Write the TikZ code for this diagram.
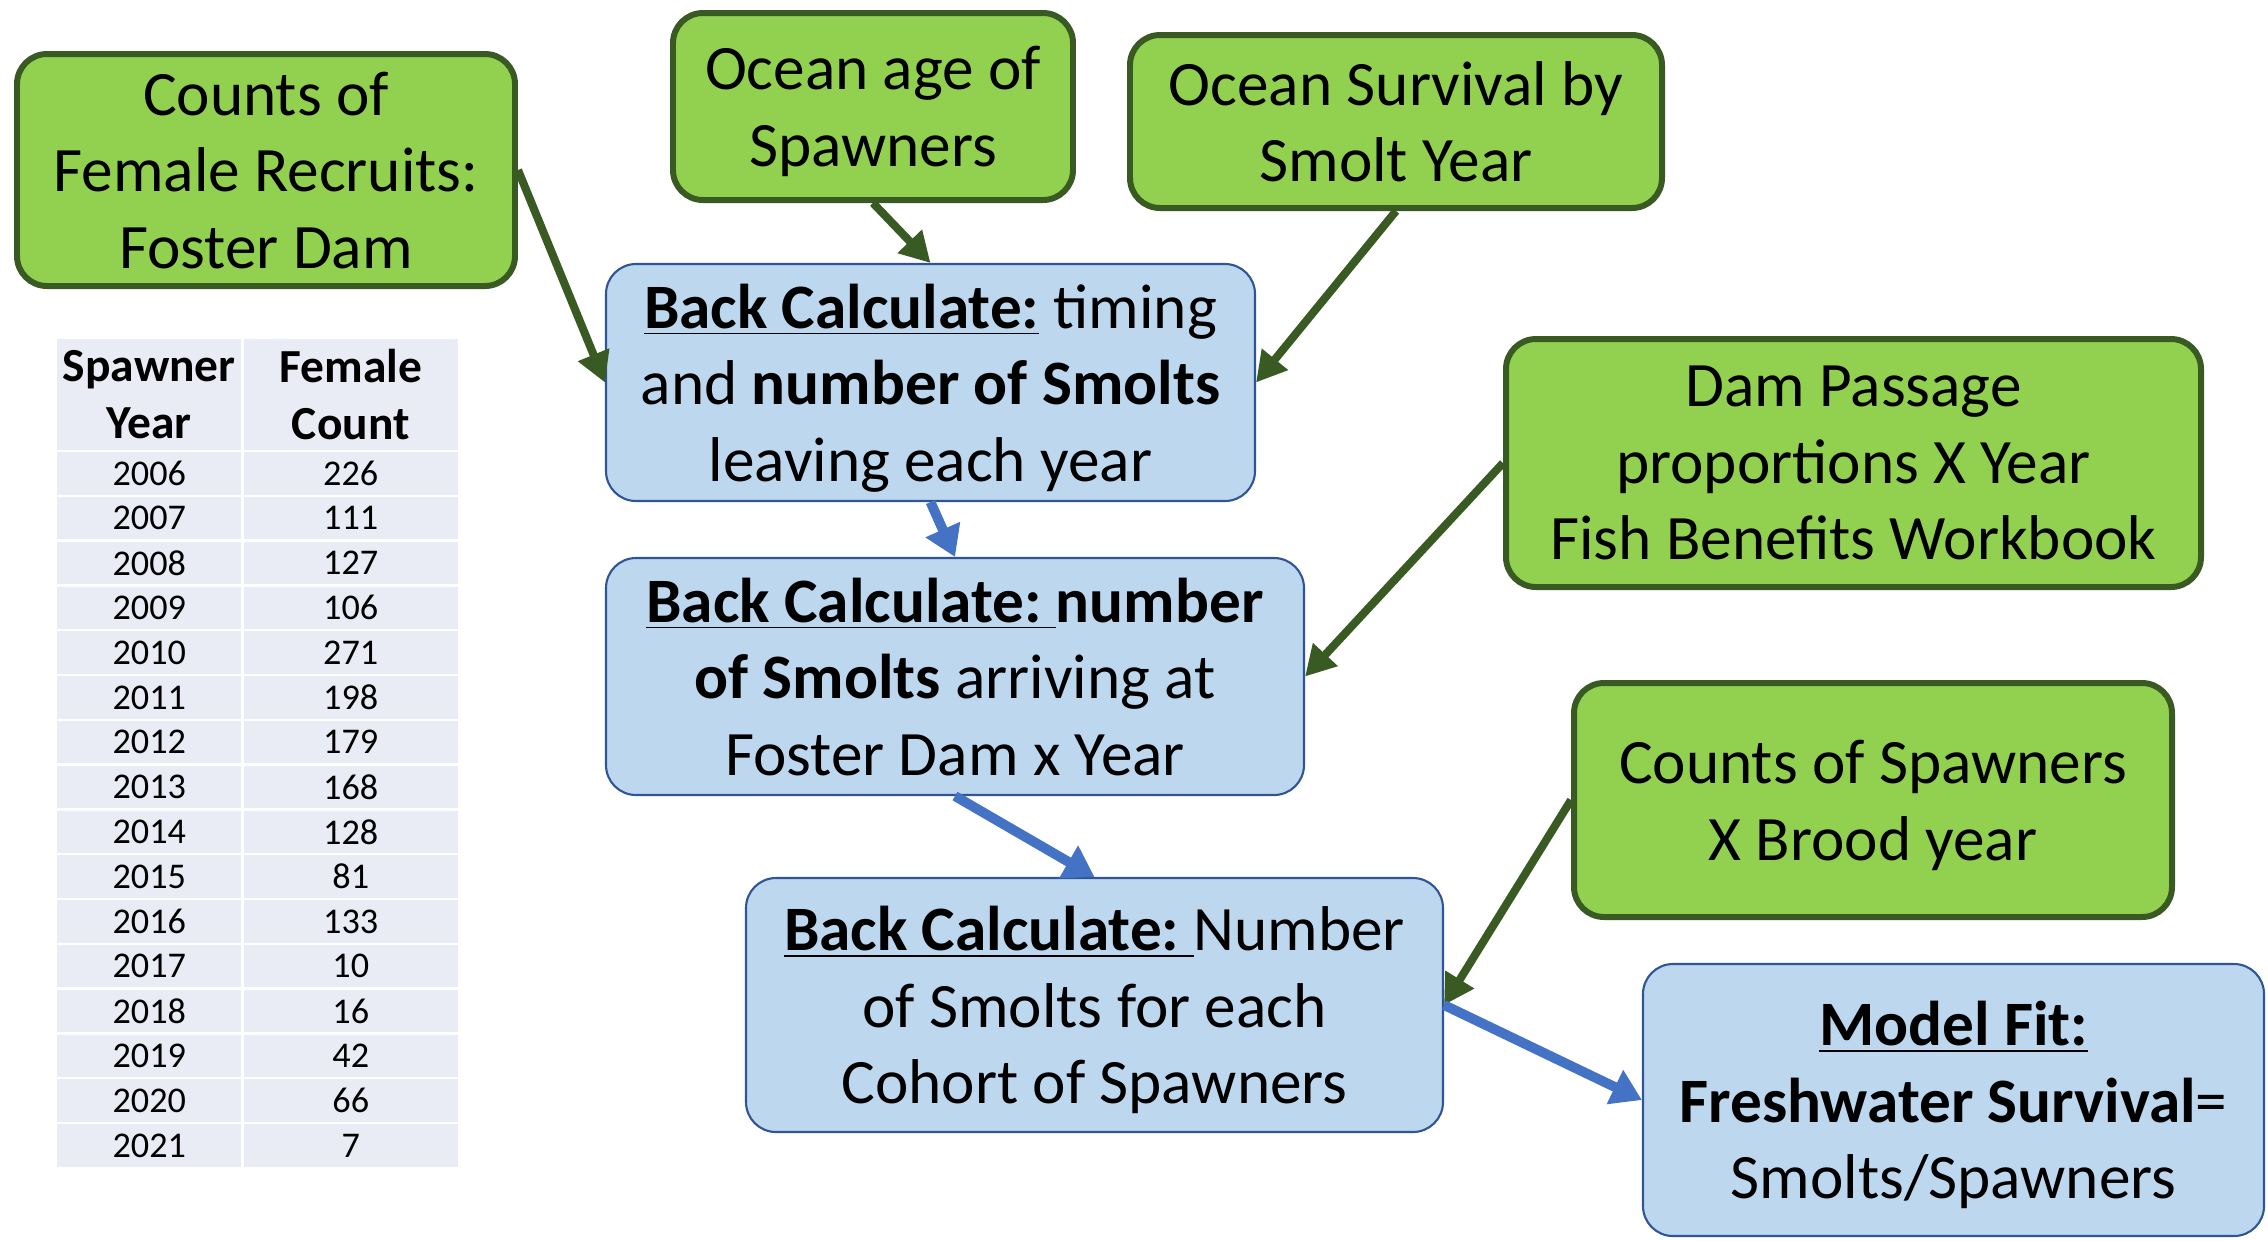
\documentclass[tikz,border=0pt]{standalone}
\usepackage{fontspec}
\setmainfont{Carlito}
\usepackage{tikz}
\usetikzlibrary{arrows.meta, positioning}

\definecolor{leafgreen}{HTML}{92D050}
\definecolor{darkgreen}{HTML}{3A5A24}
\definecolor{paleblue}{HTML}{BDD7EE}
\definecolor{edgeblue}{HTML}{2F5597}
\definecolor{arrowblue}{HTML}{4472C4}
\definecolor{tabfill}{HTML}{E9EBF5}

\begin{document}
\begin{tikzpicture}[
        green box/.style={rectangle, rounded corners=0.3cm, draw=darkgreen, line width=1.7pt, fill=leafgreen, align=center, inner sep=0pt, text depth=0pt, font=\fontsize{18}{21.8}\selectfont},
        blue box/.style={rectangle, rounded corners=0.3cm, draw=edgeblue, line width=0.6pt, fill=paleblue, align=center, inner sep=0pt, text depth=0pt, font=\fontsize{18}{21.8}\selectfont},
        green arrow/.style={-{Triangle[length=0.3cm, width=0.32cm]}, line width=2.3pt, darkgreen},
        blue arrow/.style={-{Triangle[length=0.3cm, width=0.36cm]}, line width=2.8pt, arrowblue},
        cell/.style={rectangle, fill=tabfill, draw=white, line width=0.7pt, minimum height=0.448cm, inner sep=0pt, font=\fontsize{10.3}{12}\selectfont},
        head cell/.style={cell, minimum height=1.13cm, align=center, font=\fontsize{13.5}{16.4}\selectfont\bfseries}
    ]
        \useasboundingbox (0,0) rectangle (22.68,-12.40);

        % inputs
        \node[green box, minimum width=4.98cm, minimum height=2.32cm] (recruits) at (2.66,-1.70) {Counts of\\Female Recruits:\\Foster Dam};
        \node[green box, minimum width=4.00cm, minimum height=1.87cm] (oceanage) at (8.73,-1.065) {Ocean age of\\Spawners};
        \node[green box, minimum width=5.32cm, minimum height=1.73cm] (oceansurv) at (13.96,-1.215) {Ocean Survival by\\Smolt Year};
        \node[green box, minimum width=6.95cm, minimum height=2.48cm] (passage) at (18.535,-4.63) {Dam Passage\\proportions X Year\\Fish Benefits Workbook};
        \node[green box, minimum width=5.98cm, minimum height=2.34cm] (spawners) at (18.73,-8.00) {Counts of Spawners\\X Brood year};

        % steps
        \node[blue box, minimum width=6.49cm, minimum height=2.37cm] (leaving) at (9.305,-3.825) {\underline{\textbf{Back Calculate:}} timing\\and \textbf{number of Smolts}\\leaving each year};
        \node[blue box, minimum width=6.98cm, minimum height=2.37cm] (arriving) at (9.55,-6.765) {\underline{\textbf{Back Calculate:\ }}\textbf{number}\\\textbf{of Smolts} arriving at\\Foster Dam x Year};
        \node[blue box, minimum width=6.97cm, minimum height=2.54cm] (cohort) at (10.945,-10.05) {\underline{\textbf{Back Calculate:\ }}Number\\of Smolts for each\\Cohort of Spawners};
        \node[blue box, minimum width=6.21cm, minimum height=2.72cm] (modelfit) at (19.535,-11.00) {\underline{\textbf{Model Fit:}}\\\textbf{Freshwater Survival}=\\Smolts/Spawners};

        % table
        \node[head cell, minimum width=1.865cm] (hyear) at (1.4925,-3.945) {Spawner\\Year};
        \node[head cell, minimum width=2.165cm] (hcount) at (3.5075,-3.945) {Female\\Count};
        \foreach \yr/\cnt [count=\i] in {2006/226, 2007/111, 2008/127, 2009/106, 2010/271, 2011/198, 2012/179, 2013/168, 2014/128, 2015/81, 2016/133, 2017/10, 2018/16, 2019/42, 2020/66, 2021/7}
        {
            \node[cell, minimum width=1.865cm] (yr\i) at (1.4925,{-4.51-(\i-0.5)*0.448}) {\yr};
            \node[cell, minimum width=2.165cm] (cnt\i) at (3.5075,{-4.51-(\i-0.5)*0.448}) {\cnt};
        }

        \draw[green arrow] (recruits.east) -- (leaving.west);
        \draw[green arrow] (oceanage.south) -- (leaving.north);
        \draw[green arrow] (oceansurv.south) -- (leaving.east);
        \draw[green arrow] (passage.west) -- (arriving.east);
        \draw[green arrow] (spawners.west) -- (cohort.east);
        \draw[blue arrow] (leaving.south) -- (arriving.north);
        \draw[blue arrow] (arriving.south) -- (cohort.north);
        \draw[blue arrow] (cohort.east) -- (modelfit.west);
    \end{tikzpicture}
\end{document}
